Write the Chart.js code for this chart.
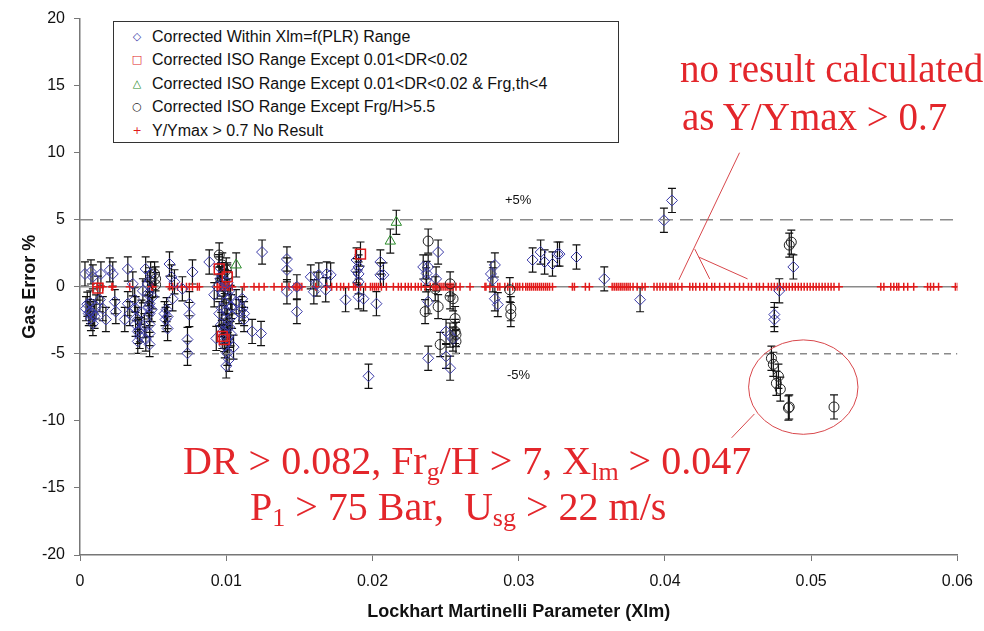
<!DOCTYPE html>
<html>
<head>
<meta charset="utf-8">
<script src="https://cdn.jsdelivr.net/npm/chart.js@4.4.0/dist/chart.umd.min.js"></script>
<style>
  body { margin: 0; background: #fff; }
  #wrap { position: relative; width: 984px; height: 631px; }
  #chart { position: absolute; left: 0; top: 0; }
  .legend { position: absolute; left: 113px; top: 21px; width: 506px; height: 122px; box-sizing: border-box;
            border: 1px solid #333; background: #fff; font: 16px "Liberation Sans", Arial, sans-serif; color: #111; }
  .legend .row { position: absolute; left: 0; height: 20px; line-height: 20px; white-space: nowrap; }
  .legend .sym { position: absolute; left: 16px; width: 14px; text-align: center; font: 11px "DejaVu Sans", sans-serif; line-height: 20px; }
  .legend .txt { position: absolute; left: 38px; }
  .note { position: absolute; font-family: "Liberation Serif", "Times New Roman", serif; font-size: 39px; line-height: 39px;
          color: #e3262b; white-space: nowrap; }
  .note.big { font-size: 40px; line-height: 40px; }
  .note .sb { font-size: 0.65em; position: relative; top: 0.22em; }
  .pct { position: absolute; font: 13px "Liberation Sans", Arial, sans-serif; color: #111; }
</style>
</head>
<body>
<div id="wrap">
  <canvas id="chart" width="984" height="631"></canvas>

  <div class="legend">
    <div class="row" style="top:5px"><span class="sym" style="color:#3a3aa8">&#9671;</span><span class="txt">Corrected Within Xlm=f(PLR) Range</span></div>
    <div class="row" style="top:28px"><span class="sym" style="color:#e01a1a">&#9633;</span><span class="txt">Corrected ISO Range Except 0.01&lt;DR&lt;0.02</span></div>
    <div class="row" style="top:52px"><span class="sym" style="color:#2a8a2a">&#9651;</span><span class="txt">Corrected ISO Range Except 0.01&lt;DR&lt;0.02 &amp; Frg,th&lt;4</span></div>
    <div class="row" style="top:75px"><span class="sym" style="color:#222">&#9675;</span><span class="txt">Corrected ISO Range Except Frg/H&gt;5.5</span></div>
    <div class="row" style="top:99px"><span class="sym" style="color:#e01a1a">+</span><span class="txt">Y/Ymax &gt; 0.7 No Result</span></div>
  </div>

  <div class="note" style="left:680px; top:49px">no result calculated</div>
  <div class="note" style="left:682px; top:97px">as Y/Ymax &gt; 0.7</div>
  <div class="note big" style="left:183px; top:441px">DR &gt; 0.082, Fr<span class="sb">g</span>/H &gt; 7, X<span class="sb">lm</span> &gt; 0.047</div>
  <div class="note big" style="left:250px; top:487px">P<span class="sb">1</span> &gt; 75 Bar,&nbsp; U<span class="sb">sg</span> &gt; 22 m/s</div>

  <div class="pct" style="left:505px; top:192px">+5%</div>
  <div class="pct" style="left:507px; top:367px">-5%</div>
</div>

<script>
// axis ticks
const xTickLabels = ['0', '0.01', '0.02', '0.03', '0.04', '0.05', '0.06'];
const yTickLabels = ['-20', '-15', '-10', '-5', '0', '5', '10', '15', '20'];

// Corrected Within Xlm=f(PLR) Range (blue diamonds)
const withinX = [
  0.00034, 0.00075, 0.00088, 0.00143, 0.00204, 0.00224, 0.00041, 0.00068, 0.00075, 0.00088,
  0.00136, 0.00156, 0.00177, 0.00238, 0.00245, 0.0005, 0.0006, 0.001, 0.0011, 0.0007, 0.0009,
  0.00327, 0.00449, 0.00483, 0.00476, 0.00306, 0.00327, 0.00361, 0.00374, 0.00381, 0.00395,
  0.00395, 0.00408, 0.00395, 0.00463, 0.00463, 0.00476, 0.00476, 0.00476, 0.00476, 0.00476,
  0.00497, 0.00578, 0.00585, 0.0042, 0.0044, 0.0049, 0.0034, 0.0038, 0.0041, 0.0045, 0.0047, 0.0043,
  0.00612, 0.00626, 0.00646, 0.007, 0.00769, 0.00884, 0.00592, 0.00599, 0.00599, 0.00633,
  0.00748, 0.00748, 0.00735, 0.00735,
  0.00918, 0.00939, 0.00952, 0.00966, 0.00932, 0.01007, 0.01007, 0.0102, 0.01034, 0.01068,
  0.01088, 0.01122, 0.01122, 0.0095, 0.0096, 0.0098, 0.0099, 0.01, 0.0101, 0.0102,
  0.0103, 0.0097, 0.0101, 0.0103, 0.0104, 0.0105, 0.01, 0.0098,
  0.0099, 0.0101, 0.0097, 0.0102, 0.0099, 0.01,
  0.01109, 0.01109, 0.01177, 0.01238, 0.01245,
  0.01415, 0.01415, 0.01415, 0.01483, 0.01483, 0.01578, 0.01599, 0.01633, 0.0168, 0.01687,
  0.01714, 0.01816, 0.01891, 0.01905, 0.01905, 0.01905, 0.01905, 0.01939, 0.02027, 0.02054,
  0.02054, 0.02075, 0.01973, 0.0162, 0.0189,
  0.02347, 0.02381, 0.02449, 0.02367, 0.02435, 0.02381, 0.02503, 0.02503, 0.02531, 0.02381, 0.0237,
  0.0253, 0.0255,
  0.02837, 0.0281, 0.02823, 0.02837, 0.02857,
  0.03095, 0.0315, 0.03177, 0.03231, 0.03265, 0.03279, 0.03395,
  0.03585, 0.0383, 0.03993, 0.04048, 0.04782, 0.04748, 0.04748, 0.04878
];
const withinY = [
  0.96, 1.11, 0.74, 0.96, 1.26, 0.96, -1.63, -1.85, -2.37, -2.74,
  -0.96, -1.63, -2.44, -1.11, -1.85, -1.3, -2.0, -2.2, -1.5, -1.2, -2.0,
  1.33, 1.33, 0.96, 0.52, -2.44, -1.26, 0.22, -0.96, -1.63, -2.44,
  -3.33, -3.7, -4.07, 0.22, -0.52, -1.26, -2.0, -2.81, -3.48, -4.3,
  -0.74, -2.0, -2.44, -1.9, -2.9, -1.7, -2.0, -2.8, -3.2, -3.9, -1.5, -0.3,
  1.7, 0.74, 0.37, -0.15, 1.11, 1.85, -1.7, -2.22, -3.11, -0.89,
  -1.26, -2.07, -3.93, -4.96,
  -0.59, 0.0, -2.0, -2.81, -3.85, -4.07, -4.96, -5.41, -1.48, -1.11,
  -1.85, -2.0, -2.44, 1.5, 0.6, -0.5, -1.2, -1.8, -2.5, -3.0,
  -3.5, 0.9, 0.3, -0.8, -2.2, -4.5, -5.9, -3.3,
  -4.4, -3.8, -1.6, -0.3, 0.4, -2.9,
  -0.89, -1.63, -3.33, -3.48, 2.59,
  2.07, 1.26, -0.37, 0.0, -1.85, 0.74, -0.37, 0.89, -0.22, 0.96,
  0.89, -0.96, 2.0, 1.48, 0.96, 0.37, -0.74, -0.89, -1.26, 1.85,
  0.89, 0.89, -6.67, 0.2, 1.2,
  1.48, 1.48, 2.59, 0.52, 0.59, -1.11, -3.33, -5.19, -6.07, -5.33, 1.0,
  -3.6, -3.9,
  1.63, 0.96, 0.52, -0.89, -1.33,
  2.0, 2.59, 1.85, 1.7, 2.44, 2.44, 2.22,
  0.59, -0.96, 4.96, 6.44, -0.3, -2.07, -2.44, 1.48
];

// Corrected ISO Range Except 0.01<DR<0.02 (red squares)
const isoX = [0.00122, 0.00973, 0.00986, 0.00952, 0.01007, 0.01918];
const isoY = [-0.1, -3.7, -3.93, 1.33, 0.74, 2.44];

// Corrected ISO Range Except 0.01<DR<0.02 & Frg,th<4 (green triangles)
const frgThX = [0.01068, 0.02122, 0.02163];
const frgThY = [1.63, 3.41, 4.81];

// Corrected ISO Range Except Frg/H>5.5 (black circles)
const frgHX = [
  0.0051, 0.00517, 0.00517, 0.00952, 0.00973, 0.01, 0.01007,
  0.02381, 0.0236, 0.02449, 0.02429, 0.02531, 0.02531, 0.02551, 0.02565, 0.02565, 0.02571, 0.02571, 0.02463,
  0.02939, 0.02946, 0.02946,
  0.04864, 0.0485, 0.04728, 0.04741, 0.04776, 0.04762, 0.04789, 0.0485, 0.04844, 0.05156
];
const frgHY = [
  0.96, 0.59, 0.15, 2.37, 1.63, 1.26, 0.89,
  3.41, -1.85, -1.48, -0.15, 0.22, -0.74, -0.89, -2.37, -3.33, -3.56, -4.07, -4.3,
  -0.22, -1.63, -2.07,
  3.33, 3.11, -5.33, -5.78, -6.67, -7.19, -7.63, -8.96, -9.04, -8.96
];

// Y/Ymax > 0.7 No Result (red plus, all at 0 %)
const noResultX = [
  0.00116, 0.00136, 0.00156, 0.00218, 0.00224, 0.0034, 0.0049, 0.00497, 0.00612, 0.00633,
  0.00667, 0.00694, 0.00728, 0.00748, 0.00769, 0.00803, 0.00816, 0.00939, 0.00952, 0.00966,
  0.0098, 0.00993, 0.01007, 0.0102, 0.01041, 0.01122, 0.0119, 0.01224, 0.01259, 0.01327,
  0.01381, 0.01429, 0.01463, 0.01476, 0.0149, 0.01503, 0.01517, 0.01612, 0.01687, 0.01721,
  0.01755, 0.01782, 0.01803, 0.01837, 0.01871, 0.01884, 0.01918, 0.01952, 0.01986, 0.02,
  0.02014, 0.02027, 0.02041, 0.02061, 0.02095, 0.02143, 0.02177, 0.02197, 0.02224, 0.02245,
  0.02265, 0.02293, 0.02313, 0.02333, 0.0236, 0.02395, 0.02415, 0.02429, 0.02442, 0.02456,
  0.02469, 0.02483, 0.02497, 0.0251, 0.02524, 0.02537, 0.02551, 0.02571, 0.02599, 0.02667,
  0.02769, 0.02776, 0.02803, 0.02857, 0.02871, 0.02905, 0.02925, 0.02959, 0.0298, 0.02993,
  0.03007, 0.03027, 0.03048, 0.03061, 0.03075, 0.03088, 0.03102, 0.03116, 0.03129, 0.03143,
  0.03156, 0.0317, 0.03184, 0.03197, 0.03211, 0.03231, 0.03367, 0.03381, 0.03456, 0.03483,
  0.03639, 0.03653, 0.03667, 0.0368, 0.03694, 0.03707, 0.03721, 0.03735, 0.03748, 0.03762,
  0.03782, 0.0381, 0.03844, 0.03864, 0.03925, 0.03946, 0.03966, 0.03986, 0.04007, 0.04034,
  0.04048, 0.04068, 0.04088, 0.04116, 0.0417, 0.0419, 0.04211, 0.04238, 0.04265, 0.04286,
  0.0432, 0.0434, 0.04374, 0.04408, 0.04442, 0.04476, 0.0451, 0.04537, 0.04571, 0.04592,
  0.04626, 0.04646, 0.04673, 0.04707, 0.04728, 0.04748, 0.04769, 0.04789, 0.0481, 0.0483,
  0.0485, 0.04871, 0.04891, 0.04912, 0.04932, 0.04952, 0.04973, 0.04993, 0.05014, 0.05034,
  0.05054, 0.05075, 0.05095, 0.05116, 0.05136, 0.05156, 0.0519, 0.05476, 0.05497, 0.05544,
  0.05565, 0.05585, 0.05599, 0.05633, 0.0566, 0.05701, 0.05796, 0.05816, 0.05837, 0.05871,
  0.05986, 0.06
];

// error bar half width, %
const errHalf = 0.9;

// reference lines (+5 %, 0, -5 %)
const refLevels = [5, 0, -5];

// callouts in data units: [x1, y1, x2, y2]
const calloutLines = [
  [0.0451, 10.0, 0.04095, 0.52],
  [0.04204, 2.81, 0.04306, 0.59],
  [0.04231, 2.22, 0.04565, 0.59],
  [0.04612, -9.48, 0.04456, -11.26]
];
const calloutEllipse = { x: 0.04946, y: -7.48, rx: 0.00374, ry: 3.52 };

const pts = (xs, ys) => xs.map((x, i) => ({ x: x, y: ys[i] }));

const errorBars = {
  id: 'errorBars',
  beforeDatasetsDraw(chart) {
    const { ctx, scales: { x, y } } = chart;
    ctx.save();
    ctx.strokeStyle = '#111';
    ctx.lineWidth = 1.2;
    chart.data.datasets.forEach(ds => {
      if (!ds.errorBar) return;
      ds.data.forEach(p => {
        const px = x.getPixelForValue(p.x);
        const top = y.getPixelForValue(p.y + ds.errorBar);
        const bot = y.getPixelForValue(p.y - ds.errorBar);
        ctx.beginPath();
        ctx.moveTo(px, top); ctx.lineTo(px, bot);
        ctx.moveTo(px - 4, top); ctx.lineTo(px + 4, top);
        ctx.moveTo(px - 4, bot); ctx.lineTo(px + 4, bot);
        ctx.stroke();
      });
    });
    ctx.restore();
  }
};

const callouts = {
  id: 'callouts',
  afterDatasetsDraw(chart) {
    const { ctx, scales: { x, y } } = chart;
    ctx.save();
    ctx.strokeStyle = '#d8474b';
    ctx.lineWidth = 1;
    calloutLines.forEach(l => {
      ctx.beginPath();
      ctx.moveTo(x.getPixelForValue(l[0]), y.getPixelForValue(l[1]));
      ctx.lineTo(x.getPixelForValue(l[2]), y.getPixelForValue(l[3]));
      ctx.stroke();
    });
    const e = calloutEllipse;
    const cx = x.getPixelForValue(e.x), cy = y.getPixelForValue(e.y);
    ctx.beginPath();
    ctx.ellipse(cx, cy, x.getPixelForValue(e.x + e.rx) - cx, cy - y.getPixelForValue(e.y + e.ry), 0, 0, Math.PI * 2);
    ctx.stroke();
    ctx.restore();
  }
};

const refStyle = [
  { dash: [13, 7] },
  { dash: [] },
  { dash: [7, 5] }
];

const refSets = refLevels.map((lv, i) => ({
  data: [{ x: 0, y: lv }, { x: 0.06, y: lv }],
  showLine: true,
  borderColor: '#8a8a8a',
  borderWidth: 1.5,
  borderDash: refStyle[i].dash,
  pointRadius: 0,
  order: 9
}));

new Chart(document.getElementById('chart'), {
  type: 'scatter',
  data: {
    datasets: [
      ...refSets,
      {
        label: 'Y/Ymax > 0.7 No Result',
        data: noResultX.map(x => ({ x: x, y: 0 })),
        pointStyle: 'cross',
        pointRadius: 4,
        borderColor: '#e21b1b',
        borderWidth: 1.5,
        order: 8
      },
      {
        label: 'Corrected Within Xlm=f(PLR) Range',
        data: pts(withinX, withinY),
        pointStyle: 'rectRot',
        pointRadius: 5.5,
        borderColor: '#3a3aa8',
        backgroundColor: 'transparent',
        borderWidth: 1,
        errorBar: errHalf,
        order: 4
      },
      {
        label: 'Corrected ISO Range Except Frg/H>5.5',
        data: pts(frgHX, frgHY),
        pointStyle: 'circle',
        pointRadius: 5,
        borderColor: '#222',
        backgroundColor: 'transparent',
        borderWidth: 1,
        errorBar: errHalf,
        order: 3
      },
      {
        label: 'Corrected ISO Range Except 0.01<DR<0.02',
        data: pts(isoX, isoY),
        pointStyle: 'rect',
        pointRadius: 7,
        borderColor: '#e01a1a',
        backgroundColor: 'transparent',
        borderWidth: 1.5,
        errorBar: errHalf,
        order: 2
      },
      {
        label: 'Corrected ISO Range Except 0.01<DR<0.02 & Frg,th<4',
        data: pts(frgThX, frgThY),
        pointStyle: 'triangle',
        pointRadius: 6,
        borderColor: '#2a8a2a',
        backgroundColor: 'transparent',
        borderWidth: 1,
        errorBar: errHalf,
        order: 1
      }
    ]
  },
  options: {
    responsive: false,
    animation: false,
    devicePixelRatio: 1,
    layout: { padding: { top: 15, right: 22, bottom: 0, left: 0 } },
    plugins: {
      legend: { display: false },
      tooltip: { enabled: false }
    },
    scales: {
      x: {
        type: 'linear',
        min: 0,
        max: 0.06,
        afterFit: s => { s.height = 76; },
        ticks: {
          stepSize: 0.01,
          padding: 11,
          color: '#111',
          font: { family: 'Liberation Sans', size: 16 },
          callback: (v, i) => xTickLabels[i]
        },
        grid: { drawOnChartArea: false, drawTicks: true, tickLength: 6, color: '#777' },
        border: { color: '#777', width: 1.5 },
        title: {
          display: true,
          text: 'Lockhart Martinelli Parameter (Xlm)',
          color: '#111',
          font: { family: 'Liberation Sans', size: 18, weight: 'bold' },
          padding: { top: 0, bottom: 8 }
        }
      },
      y: {
        type: 'linear',
        min: -20,
        max: 20,
        afterFit: s => { s.width = 80; },
        ticks: {
          stepSize: 5,
          padding: 9,
          color: '#111',
          font: { family: 'Liberation Sans', size: 16 },
          callback: (v, i) => yTickLabels[i]
        },
        grid: { drawOnChartArea: false, drawTicks: true, tickLength: 6, color: '#777' },
        border: { color: '#777', width: 1.5 },
        title: {
          display: true,
          text: 'Gas Error %',
          color: '#111',
          font: { family: 'Liberation Sans', size: 18, weight: 'bold' },
          padding: { top: 19, bottom: 0 }
        }
      }
    }
  },
  plugins: [errorBars, callouts]
});
</script>
</body>
</html>
